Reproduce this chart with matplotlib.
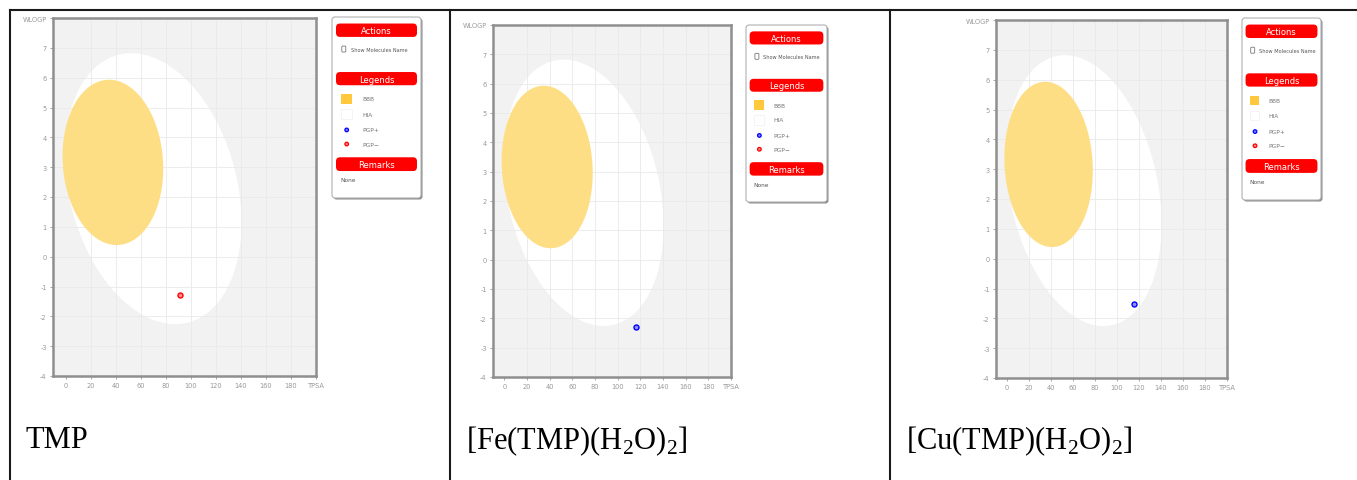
import numpy as np
import matplotlib.pyplot as plt
from matplotlib.patches import FancyBboxPatch, Rectangle, Circle

plt.rcParams['mathtext.fontset'] = 'custom'
plt.rcParams['mathtext.rm'] = 'Liberation Serif'

W, H = 1357, 481
NARROW = ['Liberation Sans Narrow', 'DejaVu Sans']

# BOILED-Egg axes
x_ticks = [0, 20, 40, 60, 80, 100, 120, 140, 160, 180, 200]
x_labels = ['0', '20', '40', '60', '80', '100', '120', '140', '160', '180', 'TPSA']
y_ticks = [-4, -3, -2, -1, 0, 1, 2, 3, 4, 5, 6, 7, 8]
y_labels = ['-4', '-3', '-2', '-1', '0', '1', '2', '3', '4', '5', '6', '7', 'WLOGP']

# egg white (HIA) and yolk (BBB): centre, half sizes, phase
hia_center = [70.0, 2.28]
hia_half = [70.5, 4.54]
hia_phase = 1.822
bbb_center = [37.8, 3.16]
bbb_half = [40.2, 2.77]
bbb_phase = 1.646

# molecules
names = ['TMP', r'[Fe(TMP)(H$_\mathrm{2}$O)$_\mathrm{2}$]', r'[Cu(TMP)(H$_\mathrm{2}$O)$_\mathrm{2}$]']
tpsa = [91.3, 116.5, 115.0]
wlogp = [-1.29, -2.30, -1.51]
pgp = ['-', '+', '+']

# layout in pixels (x0, y0, x1, y1), y from top
plot_boxes = [(53, 19, 316, 377), (493, 26, 731, 378), (996, 21, 1227, 379)]
legend_boxes = [(332, 18, 421, 199), (746, 26, 827, 203), (1242, 19, 1321, 201)]
caption_x = [25, 466, 906]

fig = plt.figure(figsize=(W / 100, H / 100), dpi=100)
fig.patch.set_facecolor('white')

ov = fig.add_axes([0, 0, 1, 1])
ov.set_xlim(0, W)
ov.set_ylim(H, 0)
ov.axis('off')

# table lines
for x in [10, 450, 890]:
    ov.plot([x, x], [11, H], color='#1a1a1a', lw=1.5)
ov.plot([10, W], [11, 11], color='#1a1a1a', lw=1.5)


def egg(c, half, phase):
    t = np.linspace(0, 2 * np.pi, 400)
    return c[0] + half[0] * np.cos(t), c[1] + half[1] * np.cos(t - phase)


def red_bar(x0, x1, ya, yb, label):
    ov.add_patch(FancyBboxPatch((x0, ya), x1 - x0, yb - ya,
                                boxstyle='round,pad=0,rounding_size=4',
                                fc='#ff0000', ec='none'))
    ov.text((x0 + x1) / 2, (ya + yb) / 2 + 0.5, label, color='white',
            fontsize=6, ha='center', va='center', family=NARROW)


def legend_panel(x0, y0, x1, y1):
    w, h = x1 - x0, y1 - y0
    ov.add_patch(FancyBboxPatch((x0 + 1.5, y0 + 1.5), w, h,
                                boxstyle='round,pad=0,rounding_size=3',
                                fc='#8a8a8a', ec='none'))
    ov.add_patch(FancyBboxPatch((x0, y0), w, h,
                                boxstyle='round,pad=0,rounding_size=3',
                                fc='white', ec='#b0b0b0', lw=0.8))
    bx0, bx1 = x0 + 0.045 * w, x1 - 0.045 * w
    red_bar(bx0, bx1, y0 + 0.036 * h, y0 + 0.110 * h, 'Actions')
    red_bar(bx0, bx1, y0 + 0.304 * h, y0 + 0.377 * h, 'Legends')
    red_bar(bx0, bx1, y0 + 0.775 * h, y0 + 0.851 * h, 'Remarks')
    yc = y0 + 0.177 * h
    ov.add_patch(FancyBboxPatch((x0 + 0.11 * w, yc - 3), 4, 6,
                                boxstyle='round,pad=0,rounding_size=1',
                                fc='white', ec='#777777', lw=0.6))
    ov.text(x0 + 0.21 * w, yc, 'Show Molecules Name', fontsize=3.6,
            color='#555555', va='center', family=NARROW)
    sq = 0.12 * w
    yb = y0 + 0.453 * h
    ov.add_patch(Rectangle((x0 + 0.10 * w, yb - sq / 2), sq, sq, fc='#ffc83d', ec='none'))
    yh = y0 + 0.536 * h
    ov.add_patch(Rectangle((x0 + 0.10 * w, yh - sq / 2), sq, sq, fc='white', ec='#f0f0f0', lw=0.5))
    yp = y0 + 0.624 * h
    ym = y0 + 0.702 * h
    ov.add_patch(Circle((x0 + 0.165 * w, yp), 1.8, fc='#8080ff', ec='#0000ff', lw=0.9))
    ov.add_patch(Circle((x0 + 0.165 * w, ym), 1.8, fc='#ff8080', ec='#ff0000', lw=0.9))
    for yy, lab in [(yb, 'BBB'), (yh, 'HIA'), (yp, 'PGP+'), (ym, 'PGP\u2212')]:
        ov.text(x0 + 0.34 * w, yy, lab, fontsize=4.2, color='#777777',
                va='center', family=NARROW)
    ov.text(x0 + 0.09 * w, y0 + 0.90 * h, 'None', fontsize=4.2, color='#555555',
            va='center', family=NARROW)


for i in range(3):
    x0, y0, x1, y1 = plot_boxes[i]
    ax = fig.add_axes([x0 / W, 1 - y1 / H, (x1 - x0) / W, (y1 - y0) / H])
    ax.set_facecolor('#f2f2f2')
    ax.set_xlim(-10, 200)
    ax.set_ylim(-4, 8)
    ex, ey = egg(hia_center, hia_half, hia_phase)
    ax.fill(ex, ey, color='white', lw=0, zorder=1)
    for xv in x_ticks[1:-1]:
        ax.axvline(xv, color='#e9e9e9', lw=0.6, zorder=1.5)
    for yv in y_ticks[1:-1]:
        ax.axhline(yv, color='#e9e9e9', lw=0.6, zorder=1.5)
    yx, yy = egg(bbb_center, bbb_half, bbb_phase)
    ax.fill(yx, yy, color='#fede85', lw=0, zorder=2)
    col = '#ff0000' if pgp[i] == '-' else '#0000ff'
    light = '#ff9090' if pgp[i] == '-' else '#9090ff'
    ax.plot(tpsa[i], wlogp[i], 'o', ms=3.6, mfc=light, mec=col, mew=1.0, zorder=3)
    ax.set_xticks(x_ticks)
    ax.set_xticklabels(x_labels)
    ax.set_yticks(y_ticks)
    ax.set_yticklabels(y_labels)
    ax.tick_params(length=2.5, width=0.6, color='#999999', labelcolor='#999999',
                   labelsize=4.8, pad=2)
    for lab in ax.get_xticklabels() + ax.get_yticklabels():
        lab.set_family(NARROW)
    for s in ax.spines.values():
        s.set_color('#8f8f8f')
        s.set_linewidth(1.8)

    legend_panel(*legend_boxes[i])
    ov.text(caption_x[i], 441, names[i], fontsize=22, family='Liberation Serif',
            va='center', ha='left', color='black')

fig.savefig('out.png', dpi=100)
